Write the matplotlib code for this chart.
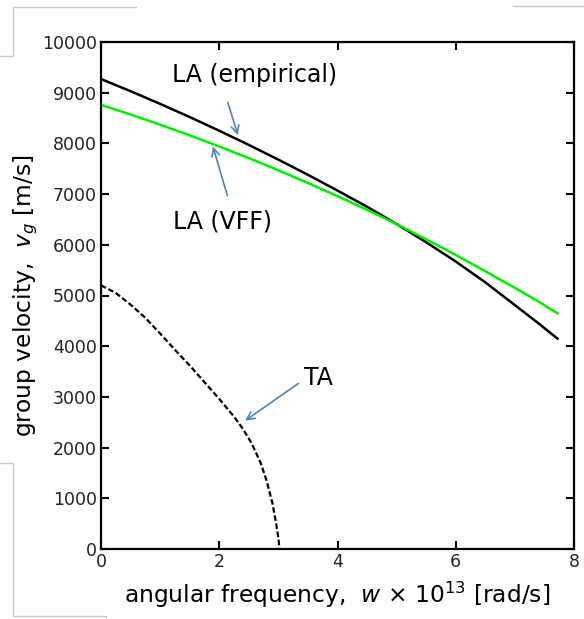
import numpy as np
import matplotlib.pyplot as plt
from matplotlib.lines import Line2D

# LA (empirical) - black solid
w_emp = [0, 0.5, 1, 1.5, 2, 2.5, 3, 3.5, 4, 4.5, 5, 5.5, 6, 6.5, 7, 7.4, 7.72]
vg_emp = [9270, 9030, 8780, 8520, 8250, 7970, 7680, 7380, 7070, 6750, 6410,
          6050, 5670, 5260, 4810, 4450, 4150]

# LA (VFF) - green
w_vff = [0, 0.5, 1, 1.5, 2, 2.5, 3, 3.5, 4, 4.5, 5, 5.5, 6, 6.5, 7, 7.4, 7.72]
vg_vff = [8760, 8570, 8370, 8160, 7940, 7710, 7470, 7220, 6960, 6690, 6410,
          6110, 5800, 5480, 5150, 4880, 4650]

# TA - black dashed
w_ta = [0, 0.25, 0.5, 0.75, 1.0, 1.25, 1.5, 1.75, 2.0, 2.25, 2.4, 2.55, 2.7,
        2.8, 2.9, 2.96, 3.0, 3.02]
vg_ta = [5200, 5050, 4820, 4560, 4250, 3930, 3620, 3290, 2960, 2610, 2370,
         2080, 1700, 1350, 900, 520, 220, 0]

xticks = [0, 2, 4, 6, 8]
yticks = [0, 1000, 2000, 3000, 4000, 5000, 6000, 7000, 8000, 9000, 10000]

W, H = 584, 619
fig = plt.figure(figsize=(W / 100, H / 100), dpi=100)
ax = fig.add_axes([101 / W, 1 - 549 / H, (574 - 101) / W, (549 - 42) / H])

ax.plot(w_emp, vg_emp, color='black', lw=1.8)
ax.plot(w_vff, vg_vff, color='#00ee00', lw=1.8)
ax.plot(w_ta, vg_ta, color='black', lw=1.6, dashes=(2.5, 1.2))

ax.set_xlim(0, 8)
ax.set_ylim(0, 10000)
ax.set_xticks(xticks)
ax.set_yticks(yticks)
ax.tick_params(direction='in', length=6, width=1.5, top=True, right=True,
               labelsize=12.5, labelcolor='#222222', pad=3)
for s in ax.spines.values():
    s.set_linewidth(1.6)

ax.set_xlabel(r'angular frequency,  $w$ × 10$^{13}$ [rad/s]', fontsize=16.8,
              labelpad=6)
ax.set_ylabel(r'group velocity,  $v_g$ [m/s]', fontsize=16.8, labelpad=1)

arrow = dict(arrowstyle='->', color='#4f81bd', lw=1.2, mutation_scale=14)
ax.text(2.6, 9350, 'LA (empirical)', ha='center', va='center', fontsize=17)
ax.annotate('', xy=(2.33, 8110), xytext=(2.13, 8860), arrowprops=arrow)
ax.text(2.05, 6450, 'LA (VFF)', ha='center', va='center', fontsize=17)
ax.annotate('', xy=(1.88, 7990), xytext=(2.15, 6920), arrowprops=arrow)
ax.text(3.67, 3370, 'TA', ha='center', va='center', fontsize=17)
ax.annotate('', xy=(2.40, 2500), xytext=(3.38, 3300), arrowprops=arrow)

# faint screenshot frame fragments
g = '#c8c8c8'
for xs, ys in [([0, 13, 13, 136], [56, 56, 7, 7]),
               ([513, 584], [6, 6]),
               ([0, 13, 13, 106, 106], [463, 463, 616, 616, 619])]:
    fig.add_artist(Line2D([x / W for x in xs], [1 - y / H for y in ys],
                          color=g, lw=1))

fig.savefig('out.png', dpi=100)
